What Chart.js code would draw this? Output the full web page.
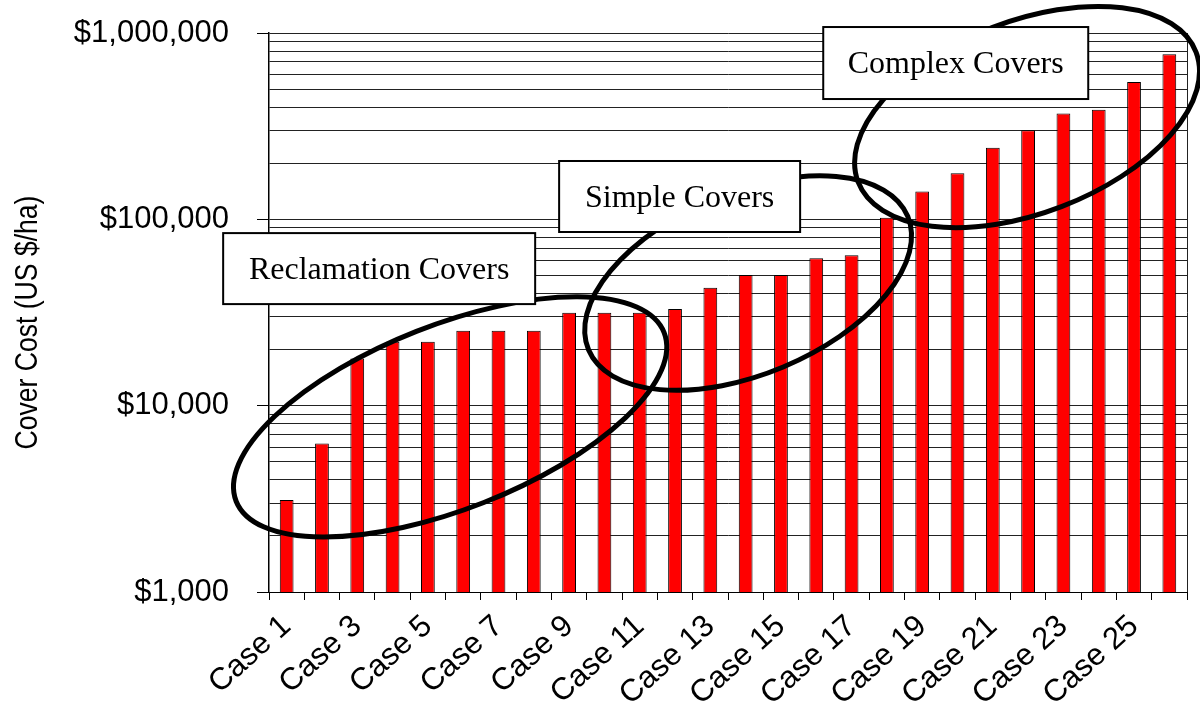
<!DOCTYPE html>
<html>
<head>
<meta charset="utf-8">
<script src="https://cdn.jsdelivr.net/npm/chart.js@4.4.1/dist/chart.umd.min.js"></script>
<style>
  html, body { margin: 0; padding: 0; background: #fff; }
</style>
</head>
<body>
<canvas id="coverChart" width="1200" height="715"></canvas>
<script>
// ===== Cover cost by case (log scale) =====

const caseLabels = [
  'Case 1', 'Case 2', 'Case 3', 'Case 4', 'Case 5', 'Case 6', 'Case 7',
  'Case 8', 'Case 9', 'Case 10', 'Case 11', 'Case 12', 'Case 13', 'Case 14',
  'Case 15', 'Case 16', 'Case 17', 'Case 18', 'Case 19', 'Case 20', 'Case 21',
  'Case 22', 'Case 23', 'Case 24', 'Case 25', 'Case 26'
];

// US $/ha
const coverCosts = [
  3120, 6270, 17900, 22000, 22000, 25200, 25200,
  25200, 31500, 31500, 31500, 33000, 43000, 50200,
  50200, 61800, 64100, 102000, 141000, 177000, 242000,
  301000, 370000, 387000, 546000, 769000
];

const yDecades = [1000, 10000, 100000, 1000000];
const yTickLabels = ['$1,000', '$10,000', '$100,000', '$1,000,000'];
const yAxisTitle = 'Cover Cost (US $/ha)';
const groupNames = ['Reclamation Covers', 'Simple Covers', 'Complex Covers'];

// grid lines at 1..9 x each decade
const yGridValues = [];
yDecades.forEach(d => {
  for (let k = 1; k <= 9; k++) {
    if (d * k <= yDecades[yDecades.length - 1]) yGridValues.push(d * k);
  }
});

// ellipses and label boxes, anchored on the scales (category position, value)
const groupEllipses = [
  { at: 4.63, value: 8700, rx: 230, ry: 92, angle: -21.5 },
  { at: 13.07, value: 45500, rx: 173, ry: 91, angle: -22.7 },
  { at: 20.97, value: 354000, rx: 181, ry: 96, angle: -21 }
];
const groupBoxes = [
  { at: 2.62, value: 54400, w: 312, h: 71 },
  { at: 11.13, value: 132600, w: 241, h: 71 },
  { at: 18.95, value: 690000, w: 265, h: 72 }
];

const coverGroupsPlugin = {
  id: 'coverGroups',
  afterDatasetsDraw(chart) {
    const { ctx, chartArea, scales: { x, y } } = chart;
    ctx.save();

    // right edge of plot
    ctx.strokeStyle = '#222';
    ctx.lineWidth = 1;
    ctx.beginPath();
    ctx.moveTo(chartArea.right + 0.5, chartArea.top);
    ctx.lineTo(chartArea.right + 0.5, chartArea.bottom);
    ctx.stroke();

    ctx.strokeStyle = '#000';
    ctx.lineWidth = 5;
    groupEllipses.forEach(e => {
      ctx.beginPath();
      ctx.ellipse(x.getPixelForValue(e.at), y.getPixelForValue(e.value),
        e.rx, e.ry, e.angle * Math.PI / 180, 0, Math.PI * 2);
      ctx.stroke();
    });

    ctx.font = '32px "Liberation Serif", "Times New Roman", serif';
    ctx.textAlign = 'center';
    ctx.textBaseline = 'middle';
    groupBoxes.forEach((b, i) => {
      const cx = x.getPixelForValue(b.at);
      const cy = y.getPixelForValue(b.value);
      ctx.fillStyle = '#fff';
      ctx.fillRect(cx - b.w / 2, cy - b.h / 2, b.w, b.h);
      ctx.lineWidth = 2;
      ctx.strokeStyle = '#000';
      ctx.strokeRect(cx - b.w / 2, cy - b.h / 2, b.w, b.h);
      ctx.fillStyle = '#000';
      ctx.fillText(groupNames[i], cx, cy + 2);
    });

    // y axis title, narrow like the original
    const midY = (chartArea.top + chartArea.bottom) / 2 + 10;
    ctx.translate(28, midY);
    ctx.rotate(-Math.PI / 2);
    ctx.scale(0.83, 1);
    ctx.font = '32px "Liberation Sans", Arial, sans-serif';
    ctx.fillText(yAxisTitle, 0, 0);

    ctx.restore();
  }
};

const ctx = document.getElementById('coverChart').getContext('2d');

new Chart(ctx, {
  type: 'bar',
  data: {
    labels: caseLabels,
    datasets: [{
      label: 'Cover Cost',
      data: coverCosts,
      backgroundColor: '#FF0000',
      borderColor: '#000',
      borderWidth: 1,
      borderSkipped: 'bottom',
      categoryPercentage: 1,
      barPercentage: 0.39
    }]
  },
  options: {
    responsive: false,
    animation: false,
    devicePixelRatio: 1,
    layout: { padding: { top: 33, right: 13, bottom: 0, left: 0 } },
    plugins: {
      legend: { display: false },
      tooltip: { enabled: false }
    },
    scales: {
      x: {
        grid: {
          drawOnChartArea: false,
          offset: true,
          tickLength: 8,
          color: '#000'
        },
        border: { color: '#000', width: 1 },
        ticks: {
          autoSkip: false,
          maxRotation: 42,
          minRotation: 42,
          padding: 8,
          color: '#000',
          font: { size: 31, family: '"Liberation Sans", Arial, sans-serif' },
          callback: (val, i) => (i % 2 === 0 ? caseLabels[i] : '')
        },
        afterFit: (scale) => {
          scale.height = 123;
          scale.paddingLeft = 0;
          scale.paddingRight = 0;
        }
      },
      y: {
        type: 'logarithmic',
        min: 1000,
        max: 1000000,
        afterBuildTicks: (scale) => {
          scale.ticks = yGridValues.map(v => ({ value: v }));
        },
        afterFit: (scale) => {
          scale.width = 269;
          scale.paddingTop = 0;
          scale.paddingBottom = 0;
        },
        grid: {
          color: '#222',
          lineWidth: 1,
          tickLength: 12,
          tickColor: (c) => (c.tick && yDecades.includes(c.tick.value) ? '#000' : 'rgba(0,0,0,0)')
        },
        border: { color: '#000', width: 1.5 },
        ticks: {
          autoSkip: false,
          padding: 28,
          color: '#000',
          font: { size: 31, family: '"Liberation Sans", Arial, sans-serif' },
          callback: (val) => {
            const i = yDecades.indexOf(val);
            return i >= 0 ? yTickLabels[i] : '';
          }
        },
        title: { display: false }
      }
    }
  },
  plugins: [coverGroupsPlugin]
});
</script>
</body>
</html>
